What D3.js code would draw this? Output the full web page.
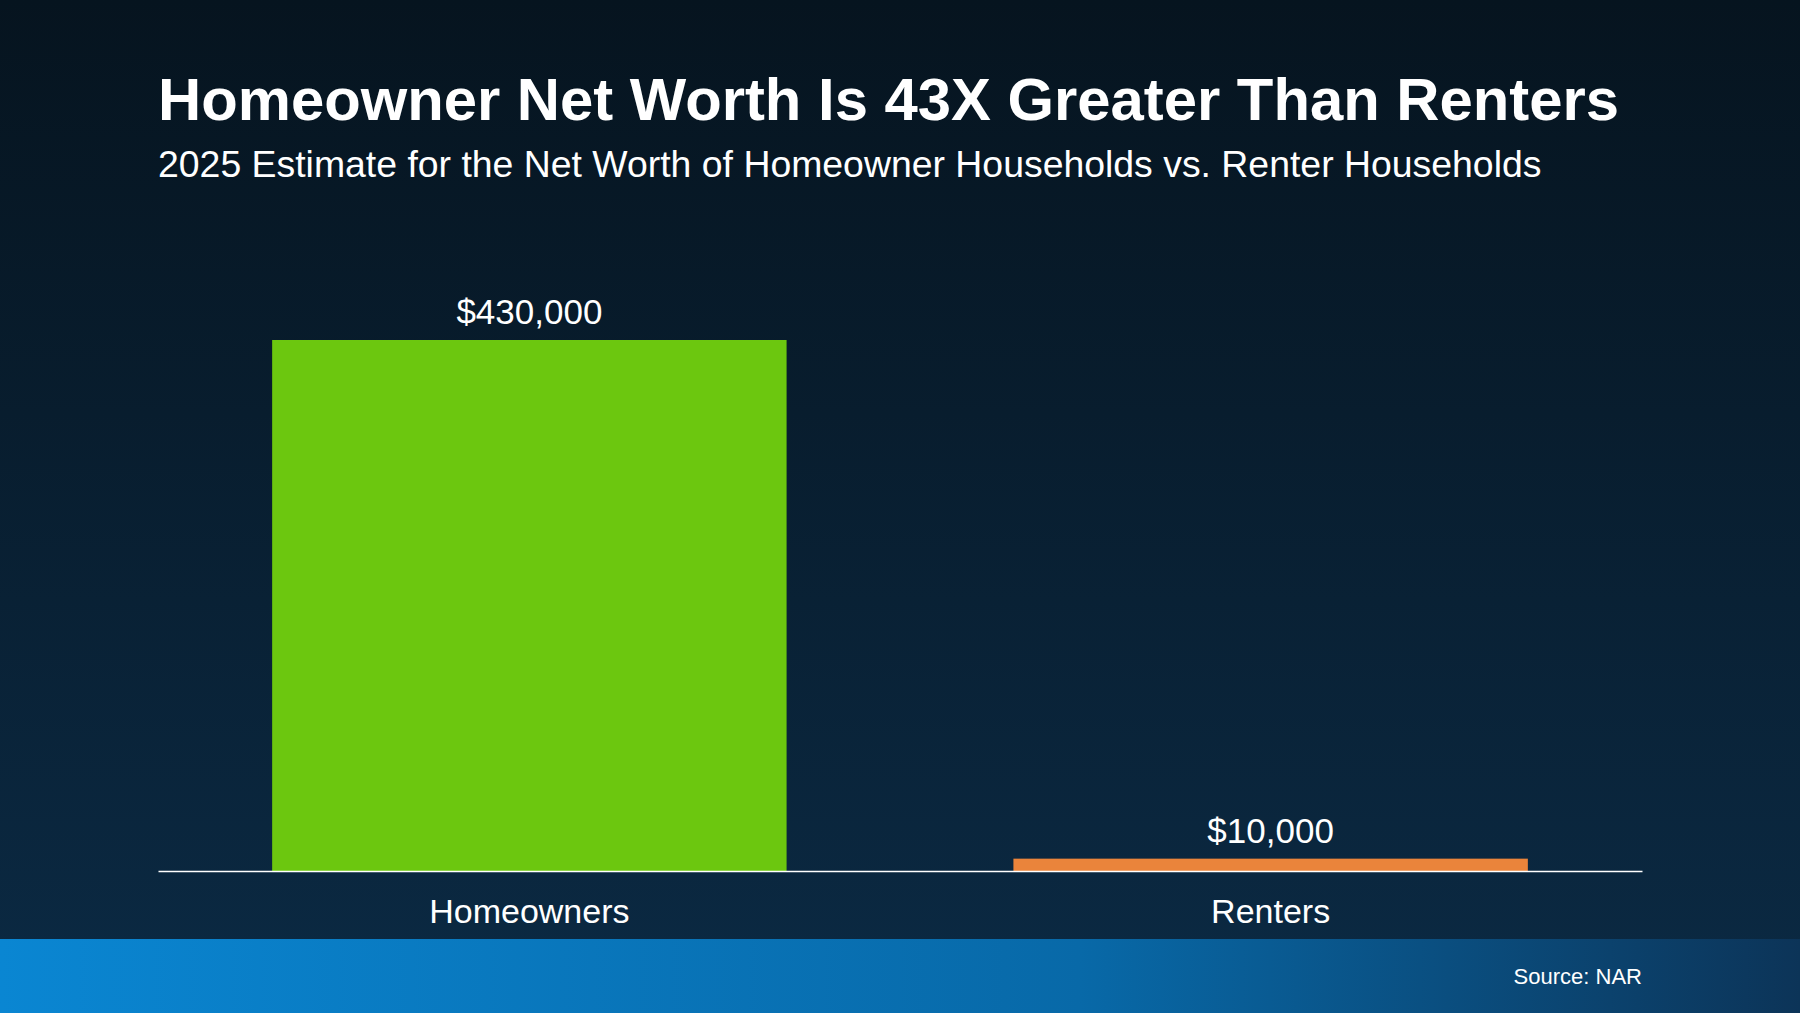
<!DOCTYPE html>
<html><head><meta charset="utf-8">
<script src="https://cdn.jsdelivr.net/npm/d3@7"></script>
<style>html,body{margin:0;padding:0;background:#07141f;}svg{display:block;font-family:"Liberation Sans",Arial,sans-serif;}</style>
</head><body>
<script>
const categories = ["Homeowners", "Renters"];
const values = [430000, 10000];
const valueLabels = ["$430,000", "$10,000"];
const barColors = ["#6cc70f", "#ea843b"];
const titleText = "Homeowner Net Worth Is 43X Greater Than Renters";
const subtitleText = "2025 Estimate for the Net Worth of Homeowner Households vs. Renter Households";
const sourceText = "Source: NAR";

const W = 1800, H = 1013;
const svg = d3.select("body").append("svg").attr("width", W).attr("height", H);
const defs = svg.append("defs");
const bg = defs.append("linearGradient").attr("id","bg").attr("x1",0).attr("y1",0).attr("x2",0).attr("y2",1);
bg.append("stop").attr("offset","0%").attr("stop-color","#06141f");
bg.append("stop").attr("offset","100%").attr("stop-color","#0b2a44");
const ft = defs.append("linearGradient").attr("id","ft").attr("x1",0).attr("y1",0).attr("x2",1).attr("y2",0);
ft.append("stop").attr("offset","0%").attr("stop-color","#0a86d2");
ft.append("stop").attr("offset","60%").attr("stop-color","#0869a8");
ft.append("stop").attr("offset","100%").attr("stop-color","#0c3458");
svg.append("rect").attr("width",W).attr("height",H).attr("fill","url(#bg)");
svg.append("rect").attr("y",939).attr("width",W).attr("height",H-939).attr("fill","url(#ft)");

svg.append("text").attr("x",158).attr("y",120).attr("fill","#fff").attr("font-size",59.8).attr("font-weight","bold").text(titleText);
svg.append("text").attr("x",158).attr("y",177).attr("fill","#fff").attr("font-size",37.4).text(subtitleText);
svg.append("text").attr("x",1642).attr("y",984).attr("fill","#fff").attr("font-size",22).attr("text-anchor","end").text(sourceText);

const x = d3.scaleBand().domain(categories).range([158,1642]).paddingInner(0.306).paddingOuter(0.154);
const y = d3.scaleLinear().domain([0,430000]).range([871,340]);

svg.selectAll("rect.bar").data(values).join("rect").attr("class","bar")
  .attr("x",(d,i)=>x(categories[i])).attr("width",x.bandwidth())
  .attr("y",d=>y(d)).attr("height",d=>871-y(d)).attr("fill",(d,i)=>barColors[i]);
svg.selectAll("text.vl").data(values).join("text").attr("class","vl")
  .attr("x",(d,i)=>x(categories[i])+x.bandwidth()/2).attr("y",d=>y(d)-16)
  .attr("text-anchor","middle").attr("fill","#fff").attr("font-size",35).text((d,i)=>valueLabels[i]);

const ax = svg.append("g").attr("transform","translate(0,871)").call(d3.axisBottom(x).tickSize(0).tickPadding(28));
ax.select(".domain").attr("stroke","#fff").attr("stroke-width",1.5);
ax.selectAll("text").attr("fill","#fff").attr("font-size",34).attr("font-family","Liberation Sans, Arial, sans-serif");
</script>
</body></html>
